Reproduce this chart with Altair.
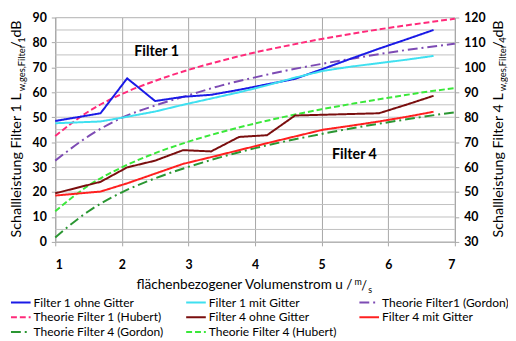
import altair as alt
import pandas as pd

# ---------------- data ----------------
u_meas = [1.0, 1.68, 2.08, 2.5, 2.92, 3.34, 3.76, 4.18, 4.6, 5.02, 5.44, 5.86, 6.28, 6.68]
f1_ohne = [48.5, 51.6, 65.6, 56.5, 58.2, 59.0, 61.0, 63.2, 65.4, 69.4, 73.5, 77.5, 81.3, 85.0]
f1_mit = [47.6, 48.3, 50.2, 52.3, 55.0, 57.5, 60.0, 62.8, 65.9, 68.6, 70.3, 71.7, 73.1, 74.6]
# Filter 4 series are read on the right axis (30..120)
f4_ohne = [49.5, 54.1, 59.9, 62.6, 66.8, 66.3, 72.1, 72.8, 80.7, 81.0, 81.3, 81.6, 85.1, 88.6]
f4_mit = [48.6, 50.2, 53.5, 57.4, 61.3, 64.0, 66.8, 69.6, 72.3, 75.0, 76.6, 78.3, 80.2, 82.2]

u_theo = [1.0, 1.5, 2.0, 2.5, 3.0, 3.5, 4.0, 4.5, 5.0, 5.5, 6.0, 6.5, 7.0]
th1_gordon = [32.6, 42.4, 49.8, 54.7, 58.8, 62.8, 66.0, 68.9, 71.4, 73.7, 75.9, 77.8, 79.5]
th1_hubert = [42.5, 52.3, 59.3, 64.6, 69.0, 72.7, 76.0, 78.8, 81.4, 83.7, 85.8, 87.7, 89.5]
th4_gordon = [31.8, 42.3, 49.9, 55.5, 60.1, 64.1, 67.6, 70.6, 73.3, 75.8, 78.0, 80.1, 82.0]
th4_hubert = [42.3, 52.6, 59.9, 65.6, 70.2, 74.1, 77.5, 80.5, 83.2, 85.6, 87.8, 89.9, 91.7]

series_names = [
    "Filter 1 ohne Gitter", "Filter 1 mit Gitter", "Theorie Filter1 (Gordon)",
    "Theorie Filter 1 (Hubert)", "Filter 4 ohne Gitter", "Filter 4 mit Gitter",
    "Theorie Filter 4 (Gordon)", "Theorie Filter 4 (Hubert)",
]
series_colors = ["#1A1AE6", "#3FE0F0", "#7D4BB4", "#FF2A7A",
                 "#7A0E0E", "#FF2020", "#2A9632", "#3AE83A"]
series_dash = [[1, 0], [1, 0], [10, 4, 2, 4], [6, 3],
               [1, 0], [1, 0], [10, 4, 2, 4], [6, 3]]

left_ticks = list(range(0, 91, 10))
right_ticks = list(range(30, 121, 10))
x_ticks = [1, 2, 3, 4, 5, 6, 7]
hgrid = list(range(0, 91, 5))

# ---------------- table ----------------
rows = []
def add(name, us, vals, side, kind):
    for u, v in zip(us, vals):
        rows.append({"u": u, "L": v, "series": name, "side": side, "kind": kind})

add(series_names[0], u_meas, f1_ohne, "left", "exp")
add(series_names[1], u_meas, f1_mit, "left", "exp")
add(series_names[2], u_theo, th1_gordon, "left", "theo")
add(series_names[3], u_theo, th1_hubert, "left", "theo")
add(series_names[4], u_meas, f4_ohne, "right", "exp")
add(series_names[5], u_meas, f4_mit, "right", "exp")
add(series_names[6], u_theo, th4_gordon, "right", "theo")
add(series_names[7], u_theo, th4_hubert, "right", "theo")
df = pd.DataFrame(rows)
grid_df = pd.DataFrame({"g": hgrid})

FONT = "Lato"

legend = alt.Legend(
    title=None, orient="none", legendX=-43.5, legendY=281, columns=3,
    direction="horizontal",
    columnPadding=18, rowPadding=0, padding=0,
    symbolType="M-1.33,0H1.33", symbolSize=225, symbolStrokeWidth=2,
    labelFont=FONT, labelFontSize=12.2, labelColor="#000", labelOffset=4.5,
    labelLimit=300,
)
color = alt.Color("series:N", scale=alt.Scale(domain=series_names, range=series_colors), legend=legend)
dash = alt.StrokeDash("series:N", scale=alt.Scale(domain=series_names, range=series_dash), legend=legend)

x_enc = alt.X("u:Q", scale=alt.Scale(domain=[1, 7], nice=False, zero=False),
              axis=alt.Axis(values=x_ticks, title=None, grid=True, gridColor="#a6a6a6",
                            labelFont=FONT, labelFontSize=12.5, labelFontWeight="bold",
                            labelColor="#000", tickSize=4, tickColor="#a6a6a6",
                            domainColor="#a6a6a6", labelPadding=13, format="d"))

left_scale = alt.Scale(domain=[0, 90], nice=False, zero=False)
right_scale = alt.Scale(domain=[30, 120], nice=False, zero=False)
left_axis = alt.Axis(values=left_ticks, title=None, grid=False, labelFont=FONT,
                     labelFontSize=12.5, labelFontWeight="bold", labelColor="#000",
                     tickSize=4, tickColor="#a6a6a6", domainColor="#a6a6a6", labelPadding=5)
right_axis = alt.Axis(values=right_ticks, title=None, grid=False, orient="right",
                      labelFont=FONT, labelFontSize=12.5, labelFontWeight="bold",
                      labelColor="#000", tickSize=4, tickColor="#a6a6a6",
                      domainColor="#a6a6a6", labelPadding=5)

base = alt.Chart(df)

grid = alt.Chart(grid_df).mark_rule(color="#c0c0c0", strokeWidth=1).encode(
    y=alt.Y("g:Q", scale=left_scale, axis=left_axis))

def lines(side, kind, scale, axis):
    interp = "monotone" if kind == "theo" else "linear"
    return base.transform_filter(
        (alt.datum.side == side) & (alt.datum.kind == kind)
    ).mark_line(strokeWidth=2, interpolate=interp).encode(
        x=x_enc,
        y=alt.Y("L:Q", scale=scale, axis=axis),
        color=color, strokeDash=dash, order="u:Q",
    )

left = alt.layer(grid,
                 lines("left", "theo", left_scale, left_axis),
                 lines("left", "exp", left_scale, left_axis))
right = alt.layer(lines("right", "theo", right_scale, right_axis),
                  lines("right", "exp", right_scale, right_axis))

one = pd.DataFrame({"k": [0]})

def txt(s, x, y, size, angle=0, align="left", baseline="alphabetic", weight="normal"):
    kw = dict(text=s, fontSize=size, font=FONT, align=align, baseline=baseline,
              fontWeight=weight, color="#000")
    if angle:
        kw["angle"] = angle
    return alt.Chart(one).mark_text(**kw).encode(x=alt.value(x), y=alt.value(y))

annotations = [
    # in-plot labels
    txt("Filter 1", 103, 35, 14.5, align="center", baseline="middle", weight="bold"),
    txt("Filter 4", 304, 140, 14.5, align="center", baseline="middle", weight="bold"),
    # left y title
    txt("Schallleistung Filter 1 L", -35, 77, 14.5, angle=270, align="right"),
    txt("w,ges,Filter 1", -31, 75, 9.5, angle=270, align="left"),
    txt("/ dB", -35, 3, 14.5, angle=270, align="right"),
    # right y title
    txt("Schallleistung Filter 4 L", 455, 77, 14.5, angle=270, align="right"),
    txt("w,ges,Filter 4", 458, 75, 9.5, angle=270, align="left"),
    txt("/ dB", 455, 3, 14.5, angle=270, align="right"),
    # x title
    txt("flächenbezogener Volumenstrom u / ", 302, 276, 13.8, align="right"),
    txt("m", 304, 272, 9, align="left"),
    txt("/", 311, 277, 13, align="left"),
    txt("s", 318, 280, 9, align="left"),
]

chart = alt.layer(left, right, *annotations).resolve_scale(y="independent").properties(
    width=406, height=228,
    autosize=alt.AutoSizeParams(type="none"),
    padding={"left": 48, "top": 7, "right": 54, "bottom": 98},
).configure_view(stroke="#a6a6a6").configure(background="white")

chart.save("out.html", embed_options={"renderer": "svg", "actions": False})
